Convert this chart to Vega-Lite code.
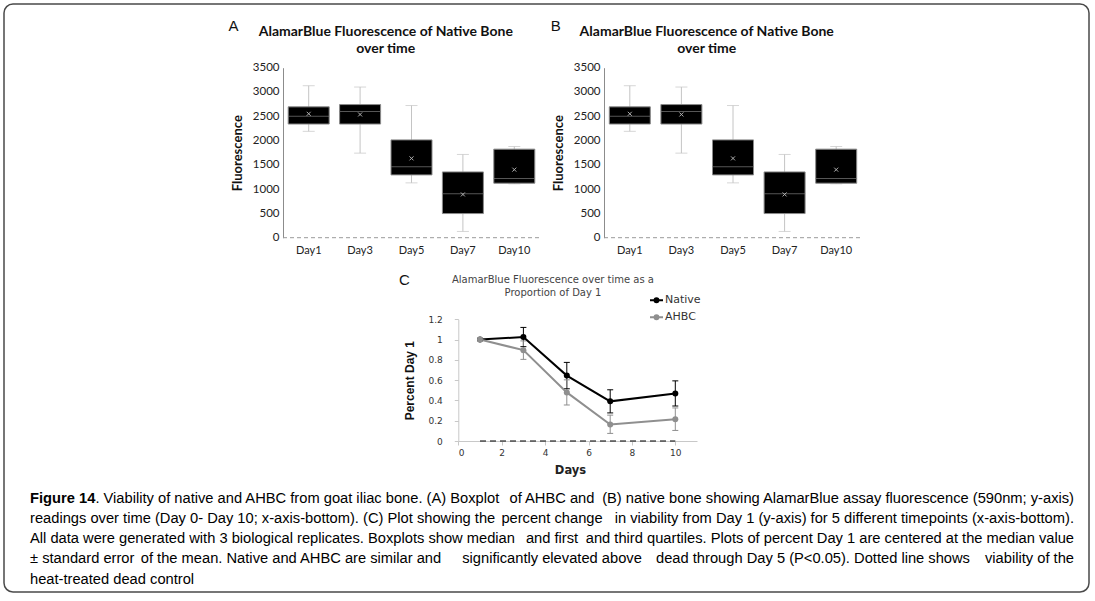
{
  "$schema": "https://vega.github.io/schema/vega-lite/v6.json",
  "width": 1085,
  "height": 588,
  "autosize": {"type": "none"},
  "padding": {"left": 4, "top": 4, "right": 6, "bottom": 9},
  "background": "white",
  "config": {
    "view": {"stroke": "#4a4a4a", "strokeWidth": 1.5, "cornerRadius": 9, "fill": "white"},
    "axis": {"grid": false}
  },
  "datasets": {
    "box": [
      {"day": "Day1", "min": 2190, "q1": 2340, "median": 2503, "q3": 2694, "max": 3129, "mean": 2551},
      {"day": "Day3", "min": 1741, "q1": 2340, "median": 2599, "q3": 2741, "max": 3102, "mean": 2537},
      {"day": "Day5", "min": 1129, "q1": 1293, "median": 1463, "q3": 2014, "max": 2721, "mean": 1633},
      {"day": "Day7", "min": 129, "q1": 497, "median": 905, "q3": 1354, "max": 1714, "mean": 891},
      {"day": "Day10", "min": 1109, "q1": 1122, "median": 1218, "q3": 1823, "max": 1878, "mean": 1401}
    ],
    "prop": [
      {"day": 1, "series": "Native", "v": 1.0, "lo": 1.0, "hi": 1.0},
      {"day": 3, "series": "Native", "v": 1.026, "lo": 0.93, "hi": 1.12},
      {"day": 5, "series": "Native", "v": 0.645, "lo": 0.515, "hi": 0.775},
      {"day": 7, "series": "Native", "v": 0.391, "lo": 0.277, "hi": 0.505},
      {"day": 10, "series": "Native", "v": 0.469, "lo": 0.345, "hi": 0.593},
      {"day": 1, "series": "AHBC", "v": 1.0, "lo": 1.0, "hi": 1.0},
      {"day": 3, "series": "AHBC", "v": 0.896, "lo": 0.805, "hi": 0.987},
      {"day": 5, "series": "AHBC", "v": 0.479, "lo": 0.355, "hi": 0.603},
      {"day": 7, "series": "AHBC", "v": 0.163, "lo": 0.075, "hi": 0.255},
      {"day": 10, "series": "AHBC", "v": 0.215, "lo": 0.104, "hi": 0.326}
    ],
    "caption": [
      {"line": 1, "anchor": "left", "seg": "label", "text": "Figure 14"},
      {"line": 1, "anchor": "left", "seg": "after", "text": ". Viability of native and AHBC from goat iliac bone. (A) Boxplot"},
      {"line": 1, "anchor": "center", "seg": "center", "text": "of AHBC and"},
      {"line": 1, "anchor": "right", "seg": "right", "text": "(B) native bone showing AlamarBlue assay fluorescence (590nm; y-axis)"},
      {"line": 2, "anchor": "left", "seg": "left", "text": "readings over time (Day 0- Day 10; x-axis-bottom). (C) Plot showing the"},
      {"line": 2, "anchor": "center", "seg": "center", "text": "percent change"},
      {"line": 2, "anchor": "right", "seg": "right", "text": "in viability from Day 1 (y-axis) for 5 different timepoints (x-axis-bottom)."},
      {"line": 3, "anchor": "left", "seg": "left", "text": "All data were generated with 3 biological replicates. Boxplots show median"},
      {"line": 3, "anchor": "center", "seg": "center", "text": "and first"},
      {"line": 3, "anchor": "right", "seg": "right", "text": "and third quartiles. Plots of percent Day 1 are centered at the median value"},
      {"line": 4, "anchor": "left", "seg": "left", "text": "± standard error"},
      {"line": 4, "anchor": "quarter1", "seg": "center", "text": "of the mean. Native and AHBC are similar and"},
      {"line": 4, "anchor": "center", "seg": "center", "text": "significantly elevated above"},
      {"line": 4, "anchor": "quarter3", "seg": "center", "text": "dead through Day 5 (P<0.05). Dotted line shows"},
      {"line": 4, "anchor": "right", "seg": "right", "text": "viability of the"},
      {"line": 5, "anchor": "left", "seg": "left", "text": "heat-treated dead control"}
    ]
  },
  "resolve": {
    "scale": {"x": "independent", "y": "independent", "color": "independent"},
    "axis": {"x": "independent", "y": "independent"}
  },
  "layer": [
    {
      "data": {"name": "caption"},
      "encoding": {
        "x": {"field": "anchor", "type": "nominal", "axis": null,
              "scale": {"type": "point", "domain": ["left", "quarter1", "center", "quarter3", "right"], "range": [26, 1070], "padding": 0}},
        "y": {"field": "line", "type": "ordinal", "axis": null,
              "scale": {"type": "point", "domain": [1, 2, 3, 4, 5], "range": [494.5, 575.5], "padding": 0}},
        "text": {"field": "text"}
      },
      "layer": [
        {"transform": [{"filter": "datum.seg === 'label'"}],
         "mark": {"type": "text", "align": "left", "baseline": "middle", "font": "Liberation Sans", "fontSize": 14.7, "fontWeight": "bold", "color": "#000"}},
        {"transform": [{"filter": "datum.seg === 'after'"}],
         "mark": {"type": "text", "align": "left", "baseline": "middle", "dx": 65.4, "font": "Liberation Sans", "fontSize": 14.7, "color": "#000"}},
        {"transform": [{"filter": "datum.seg === 'left'"}],
         "mark": {"type": "text", "align": "left", "baseline": "middle", "font": "Liberation Sans", "fontSize": 14.7, "color": "#000"}},
        {"transform": [{"filter": "datum.seg === 'center'"}],
         "mark": {"type": "text", "align": "center", "baseline": "middle", "font": "Liberation Sans", "fontSize": 14.7, "color": "#000"}},
        {"transform": [{"filter": "datum.seg === 'right'"}],
         "mark": {"type": "text", "align": "right", "baseline": "middle", "font": "Liberation Sans", "fontSize": 14.7, "color": "#000"}}
      ]
    },
    {
      "data": {"name": "box"},
      "encoding": {
        "x": {"field": "day", "type": "nominal", "sort": ["Day1", "Day3", "Day5", "Day7", "Day10"],
              "scale": {"type": "band", "domain": ["Day1", "Day3", "Day5", "Day7", "Day10"], "range": [279, 536], "paddingInner": 0, "paddingOuter": 0},
              "axis": {"orient": "bottom", "offset": -354.3, "title": null, "domain": false, "ticks": false, "labelAngle": 0, "labelPadding": 7, "labelFont": "Lato", "labelFontSize": 11, "labelColor": "#222"}}
      },
      "layer": [
        {"transform": [{"filter": "datum.day === 'Day1'"}],
         "mark": {"type": "rule", "color": "#9a9a9a", "strokeDash": [4, 3], "strokeWidth": 1},
         "encoding": {"x": {"datum": "Day1", "bandPosition": 0}, "x2": {"datum": "Day10", "bandPosition": 1}, "y": {"datum": 0, "type": "quantitative"}}},
        {"mark": {"type": "rule", "color": "#c4c4c4", "strokeWidth": 1},
         "encoding": {
           "y": {"field": "min", "type": "quantitative", "scale": {"domain": [0, 3500], "nice": false, "range": [233.7, 63.7]},
                 "axis": {"orient": "left", "offset": -279, "title": "Fluorescence", "values": [0, 500, 1000, 1500, 2000, 2500, 3000, 3500], "format": "d", "domain": true, "domainColor": "#8c8c8c", "ticks": false, "tickSize": 0, "labelPadding": 4, "labelFont": "Lato", "labelFontSize": 11.5, "labelColor": "#222", "titleFont": "Lato", "titleFontSize": 13, "titleFontWeight": "bold", "titleColor": "#111", "titlePadding": 8}},
           "y2": {"field": "max"}}},
        {"mark": {"type": "tick", "color": "#c4c4c4", "size": 12, "thickness": 1},
         "encoding": {"y": {"field": "min", "type": "quantitative"}}},
        {"mark": {"type": "tick", "color": "#c4c4c4", "size": 12, "thickness": 1},
         "encoding": {"y": {"field": "max", "type": "quantitative"}}},
        {"mark": {"type": "bar", "size": 41, "fill": "#000", "stroke": "#8a8a8a", "strokeWidth": 1},
         "encoding": {"y": {"field": "q1", "type": "quantitative"}, "y2": {"field": "q3"}}},
        {"mark": {"type": "tick", "color": "#7a7a7a", "size": 41, "thickness": 1},
         "encoding": {"y": {"field": "median", "type": "quantitative"}}},
        {"mark": {"type": "point", "shape": "M-1,-1L1,1M-1,1L1,-1", "filled": false, "stroke": "#b0b0b0", "strokeWidth": 1, "size": 16, "opacity": 1},
         "encoding": {"y": {"field": "mean", "type": "quantitative"}}},
        {"transform": [{"filter": "datum.day === 'Day1'"}],
         "mark": {"type": "text", "align": "center", "baseline": "alphabetic", "dx": -25.7, "dy": -31.5, "lineHeight": 16.5, "font": "Lato", "fontSize": 14, "fontWeight": "bold", "color": "#111"},
         "encoding": {"x": {"datum": "Day5"}, "y": {"datum": 3500, "type": "quantitative"}, "text": {"value": ["AlamarBlue Fluorescence of Native Bone", "over time"]}}},
        {"transform": [{"filter": "datum.day === 'Day1'"}],
         "mark": {"type": "text", "align": "center", "baseline": "alphabetic", "dx": -75.2, "dy": -36.3, "font": "Liberation Sans", "fontSize": 15, "color": "#111"},
         "encoding": {"x": {"datum": "Day1"}, "y": {"datum": 3500, "type": "quantitative"}, "text": {"value": "A"}}}
      ]
    },
    {
      "data": {"name": "box"},
      "encoding": {
        "x": {"field": "day", "type": "nominal", "sort": ["Day1", "Day3", "Day5", "Day7", "Day10"],
              "scale": {"type": "band", "domain": ["Day1", "Day3", "Day5", "Day7", "Day10"], "range": [600, 858], "paddingInner": 0, "paddingOuter": 0},
              "axis": {"orient": "bottom", "offset": -354.3, "title": null, "domain": false, "ticks": false, "labelAngle": 0, "labelPadding": 7, "labelFont": "Lato", "labelFontSize": 11, "labelColor": "#222"}}
      },
      "layer": [
        {"transform": [{"filter": "datum.day === 'Day1'"}],
         "mark": {"type": "rule", "color": "#9a9a9a", "strokeDash": [4, 3], "strokeWidth": 1},
         "encoding": {"x": {"datum": "Day1", "bandPosition": 0}, "x2": {"datum": "Day10", "bandPosition": 1}, "y": {"datum": 0, "type": "quantitative"}}},
        {"mark": {"type": "rule", "color": "#c4c4c4", "strokeWidth": 1},
         "encoding": {
           "y": {"field": "min", "type": "quantitative", "scale": {"domain": [0, 3500], "nice": false, "range": [233.7, 63.7]},
                 "axis": {"orient": "left", "offset": -600, "title": "Fluorescence", "values": [0, 500, 1000, 1500, 2000, 2500, 3000, 3500], "format": "d", "domain": true, "domainColor": "#8c8c8c", "ticks": false, "tickSize": 0, "labelPadding": 4, "labelFont": "Lato", "labelFontSize": 11.5, "labelColor": "#222", "titleFont": "Lato", "titleFontSize": 13, "titleFontWeight": "bold", "titleColor": "#111", "titlePadding": 8}},
           "y2": {"field": "max"}}},
        {"mark": {"type": "tick", "color": "#c4c4c4", "size": 12, "thickness": 1},
         "encoding": {"y": {"field": "min", "type": "quantitative"}}},
        {"mark": {"type": "tick", "color": "#c4c4c4", "size": 12, "thickness": 1},
         "encoding": {"y": {"field": "max", "type": "quantitative"}}},
        {"mark": {"type": "bar", "size": 41, "fill": "#000", "stroke": "#8a8a8a", "strokeWidth": 1},
         "encoding": {"y": {"field": "q1", "type": "quantitative"}, "y2": {"field": "q3"}}},
        {"mark": {"type": "tick", "color": "#7a7a7a", "size": 41, "thickness": 1},
         "encoding": {"y": {"field": "median", "type": "quantitative"}}},
        {"mark": {"type": "point", "shape": "M-1,-1L1,1M-1,1L1,-1", "filled": false, "stroke": "#b0b0b0", "strokeWidth": 1, "size": 16, "opacity": 1},
         "encoding": {"y": {"field": "mean", "type": "quantitative"}}},
        {"transform": [{"filter": "datum.day === 'Day1'"}],
         "mark": {"type": "text", "align": "center", "baseline": "alphabetic", "dx": -26.3, "dy": -31.5, "lineHeight": 16.5, "font": "Lato", "fontSize": 14, "fontWeight": "bold", "color": "#111"},
         "encoding": {"x": {"datum": "Day5"}, "y": {"datum": 3500, "type": "quantitative"}, "text": {"value": ["AlamarBlue Fluorescence of Native Bone", "over time"]}}},
        {"transform": [{"filter": "datum.day === 'Day1'"}],
         "mark": {"type": "text", "align": "center", "baseline": "alphabetic", "dx": -74, "dy": -36.3, "font": "Liberation Sans", "fontSize": 15, "color": "#111"},
         "encoding": {"x": {"datum": "Day1"}, "y": {"datum": 3500, "type": "quantitative"}, "text": {"value": "B"}}}
      ]
    },
    {
      "data": {"name": "prop"},
      "encoding": {
        "x": {"field": "day", "type": "quantitative",
              "scale": {"domain": [0, 11], "nice": false, "range": [454.3, 693]},
              "axis": {"orient": "bottom", "offset": -151, "title": "Days", "values": [0, 2, 4, 6, 8, 10], "domainColor": "#c8c8c8", "tickColor": "#c8c8c8", "tickSize": 4, "labelPadding": 3, "labelFont": "DejaVu Sans", "labelFontSize": 9, "labelColor": "#333", "titleFont": "DejaVu Sans", "titleFontSize": 11.5, "titleFontWeight": "bold", "titleColor": "#222", "titlePadding": 7, "titleX": 566}}
      },
      "layer": [
        {"transform": [{"filter": "datum.day === 1 && datum.series === 'Native'"}],
         "mark": {"type": "rule", "strokeDash": [6, 4], "strokeWidth": 1, "color": "#000"},
         "encoding": {"x": {"datum": 1}, "x2": {"datum": 10}, "y": {"datum": 0, "type": "quantitative", "scale": {"domain": [0, 1.2], "nice": false, "range": [437, 315.3]},
                 "axis": {"orient": "left", "offset": -454.3, "title": "Percent Day 1", "values": [0, 0.2, 0.4, 0.6, 0.8, 1, 1.2], "format": ".1~f", "domainColor": "#c8c8c8", "tickColor": "#c8c8c8", "tickSize": 4, "labelPadding": 12, "labelFont": "DejaVu Sans", "labelFontSize": 9, "labelColor": "#333", "titleFont": "Liberation Sans Narrow, Liberation Sans", "titleFontSize": 12, "titleFontWeight": "bold", "titleColor": "#111", "titlePadding": 11}}}},
        {"transform": [{"filter": "datum.day > 1"}],
         "mark": {"type": "rule", "strokeWidth": 1},
         "encoding": {
           "y": {"field": "lo", "type": "quantitative"},
           "y2": {"field": "hi"},
           "color": {"field": "series", "type": "nominal",
                     "scale": {"domain": ["Native", "AHBC"], "range": ["#000000", "#8f8f8f"]}}}},
        {"transform": [{"filter": "datum.day > 1"}],
         "mark": {"type": "point", "shape": "M-1,0L1,0", "filled": false, "strokeWidth": 1, "size": 36, "opacity": 1},
         "encoding": {"y": {"field": "lo", "type": "quantitative"}, "color": {"field": "series", "type": "nominal"}}},
        {"transform": [{"filter": "datum.day > 1"}],
         "mark": {"type": "point", "shape": "M-1,0L1,0", "filled": false, "strokeWidth": 1, "size": 36, "opacity": 1},
         "encoding": {"y": {"field": "hi", "type": "quantitative"}, "color": {"field": "series", "type": "nominal"}}},
        {"mark": {"type": "line", "strokeWidth": 2},
         "encoding": {"y": {"field": "v", "type": "quantitative"},
                      "color": {"field": "series", "type": "nominal",
                                "legend": {"orient": "none", "legendX": 645, "legendY": 288.7, "title": null, "labelFont": "DejaVu Sans", "labelFontSize": 11, "labelColor": "#333", "symbolType": "M-1,0L1,0M-0.3,0A0.3,0.3 0 1 1 0.3,0A0.3,0.3 0 1 1 -0.3,0", "symbolSize": 169, "symbolStrokeWidth": 2, "rowPadding": 3, "labelOffset": 1, "padding": 0}}}},
        {"mark": {"type": "point", "filled": true, "size": 36, "opacity": 1},
         "encoding": {"y": {"field": "v", "type": "quantitative"}, "color": {"field": "series", "type": "nominal"}}},
        {"transform": [{"filter": "datum.day === 1 && datum.series === 'Native'"}],
         "mark": {"type": "text", "align": "center", "baseline": "alphabetic", "dx": -13.8, "dy": -36.3, "lineHeight": 12.5, "font": "DejaVu Sans", "fontSize": 10, "color": "#444"},
         "encoding": {"x": {"datum": 5}, "y": {"datum": 1.2, "type": "quantitative"}, "text": {"value": ["AlamarBlue Fluorescence over time as a", "Proportion of Day 1"]}}},
        {"transform": [{"filter": "datum.day === 1 && datum.series === 'Native'"}],
         "mark": {"type": "text", "align": "center", "baseline": "alphabetic", "dx": -53.8, "dy": -34.3, "font": "Liberation Sans", "fontSize": 15, "color": "#111"},
         "encoding": {"x": {"datum": 0}, "y": {"datum": 1.2, "type": "quantitative"}, "text": {"value": "C"}}}
      ]
    }
  ]
}
